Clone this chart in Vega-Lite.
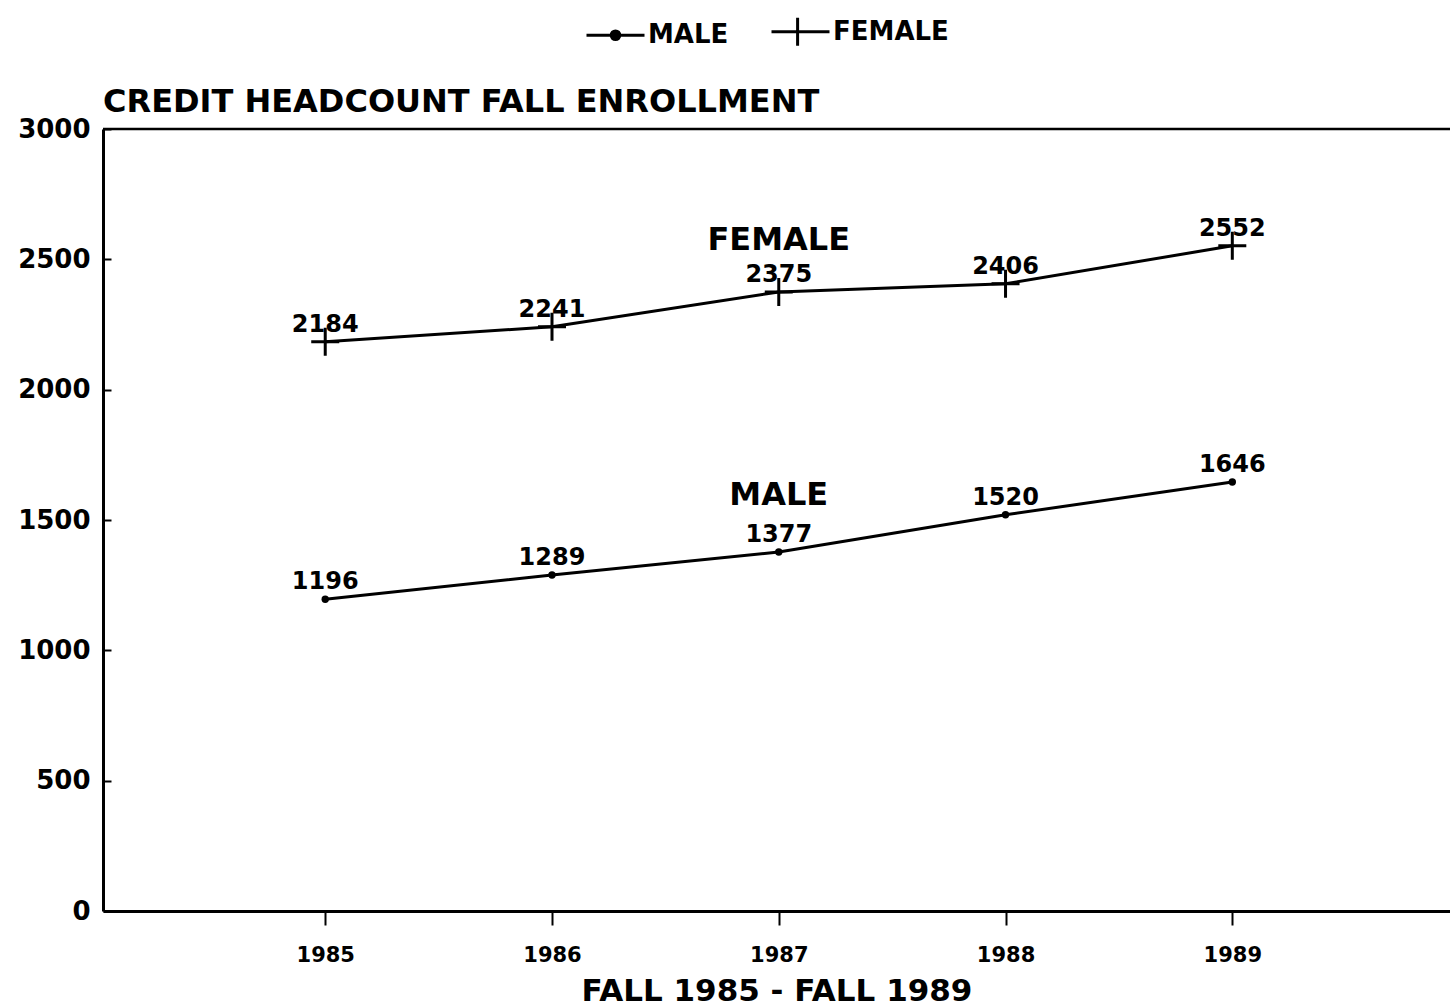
{
  "$schema": "https://vega.github.io/schema/vega-lite/v6.json",
  "width": 1347,
  "height": 782,
  "autosize": "none",
  "padding": {"left": 103, "top": 129, "right": 0, "bottom": 97},
  "background": "white",
  "config": {
    "font": "DejaVu Sans",
    "view": {"stroke": null},
    "axis": {"grid": false, "domainColor": "black", "domainWidth": 3, "tickColor": "black", "tickWidth": 2, "labelColor": "black", "labelFont": "DejaVu Sans", "labelFontWeight": "bold", "titleColor": "black", "titleFont": "DejaVu Sans", "titleFontWeight": "bold"}
  },
  "data": {
    "values": [
      {"year": 1985, "sex": "MALE", "value": 1196},
      {"year": 1986, "sex": "MALE", "value": 1289},
      {"year": 1987, "sex": "MALE", "value": 1377},
      {"year": 1988, "sex": "MALE", "value": 1520},
      {"year": 1989, "sex": "MALE", "value": 1646},
      {"year": 1985, "sex": "FEMALE", "value": 2184},
      {"year": 1986, "sex": "FEMALE", "value": 2241},
      {"year": 1987, "sex": "FEMALE", "value": 2375},
      {"year": 1988, "sex": "FEMALE", "value": 2406},
      {"year": 1989, "sex": "FEMALE", "value": 2552}
    ]
  },
  "encoding": {
    "x": {"field": "year", "type": "quantitative", "scale": {"domain": [1984.02, 1989.96], "nice": false, "zero": false},
      "axis": {"values": [1985, 1986, 1987, 1988, 1989], "format": "d", "title": "FALL 1985 - FALL 1989", "titleFontSize": 31, "titlePadding": 11, "labelFontSize": 21, "tickSize": 14, "labelPadding": 19}},
    "y": {"field": "value", "type": "quantitative", "scale": {"domain": [0, 3000], "nice": false},
      "axis": {"values": [0, 500, 1000, 1500, 2000, 2500, 3000], "format": "d", "title": null, "labelFontSize": 26, "tickSize": -8, "labelPadding": 21}}
  },
  "layer": [
    {"transform": [{"filter": "datum.sex === 'MALE' && datum.year === 1985"}], "mark": {"type": "rule", "color": "black", "strokeWidth": 2.5}, "encoding": {"x": {"value": 0}, "x2": {"value": 1347}, "y": {"datum": 3000, "type": "quantitative"}}},
    {"mark": {"type": "line", "color": "black", "strokeWidth": 3}, "encoding": {"detail": {"field": "sex"}}},
    {"transform": [{"filter": "datum.sex === 'MALE'"}], "mark": {"type": "point", "shape": "circle", "filled": true, "color": "black", "size": 55, "opacity": 1}},
    {"transform": [{"filter": "datum.sex === 'FEMALE'"}], "mark": {"type": "point", "shape": "M-1,0H1M0,-1V1", "filled": false, "color": "black", "strokeWidth": 3, "size": 784, "opacity": 1}},
    {"mark": {"type": "point", "filled": false, "color": "black", "strokeWidth": 3, "size": 3364, "opacity": 0},
      "encoding": {"shape": {"field": "sex", "type": "nominal",
        "scale": {"domain": ["MALE", "FEMALE"], "range": ["M-1,0H1M-0.15,0A0.15,0.15 0 1,0 0.15,0A0.15,0.15 0 1,0 -0.15,0", "M-1,0H1M-0.1,-0.48V0.48"]},
        "legend": {"orient": "none", "legendX": 482, "legendY": -128, "direction": "horizontal", "title": null, "symbolSize": 3364, "symbolStrokeWidth": 3, "labelFontSize": 26, "labelFont": "DejaVu Sans", "labelFontWeight": "bold", "labelColor": "black", "labelOffset": 2, "columnPadding": 36, "padding": 0,
          "encoding": {"symbols": {"fill": {"value": "black"}, "stroke": {"value": "black"}, "strokeWidth": {"value": 3}, "opacity": {"value": 1}}}}}}},
    {"mark": {"type": "text", "fontSize": 24, "fontWeight": "bold", "baseline": "alphabetic", "dy": -10, "color": "black"}, "encoding": {"text": {"field": "value"}}},
    {"transform": [{"filter": "datum.sex === 'MALE' && datum.year === 1985"}], "mark": {"type": "text", "fontSize": 32, "fontWeight": "bold", "baseline": "alphabetic", "color": "black"}, "encoding": {"x": {"datum": 1987}, "y": {"datum": 2535}, "text": {"value": "FEMALE"}}},
    {"transform": [{"filter": "datum.sex === 'MALE' && datum.year === 1985"}], "mark": {"type": "text", "fontSize": 32, "fontWeight": "bold", "baseline": "alphabetic", "color": "black"}, "encoding": {"x": {"datum": 1987}, "y": {"datum": 1557}, "text": {"value": "MALE"}}},
    {"transform": [{"filter": "datum.sex === 'MALE' && datum.year === 1985"}], "mark": {"type": "text", "fontSize": 32, "fontWeight": "bold", "baseline": "alphabetic", "align": "left", "dy": -17, "color": "black"}, "encoding": {"x": {"datum": 1984.02}, "y": {"datum": 3000}, "text": {"value": "CREDIT HEADCOUNT FALL ENROLLMENT"}}}
  ]
}
